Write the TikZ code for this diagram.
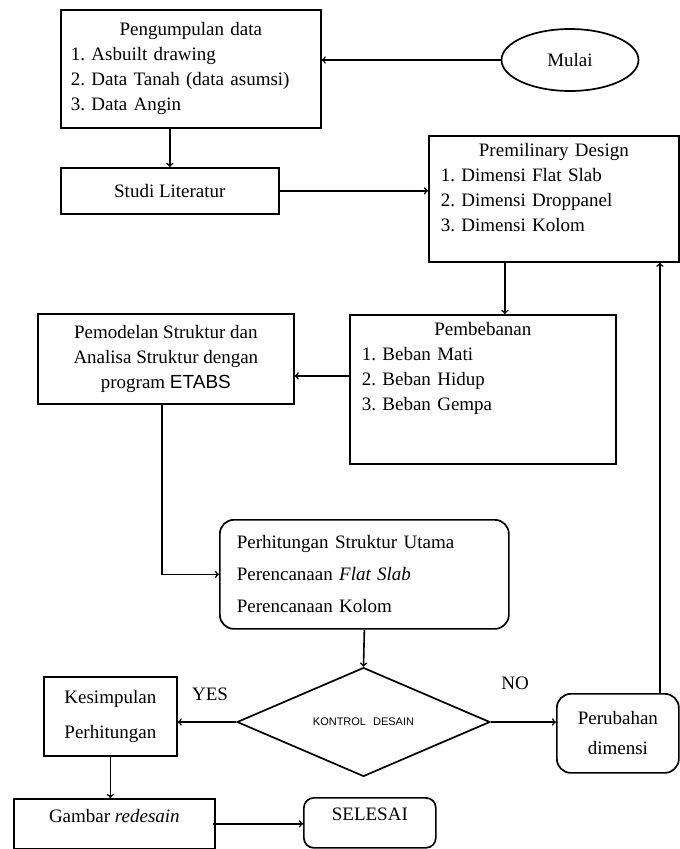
\documentclass[tikz,border=0pt]{standalone}
\usepackage{fontspec}
\setmainfont{Liberation Serif}
\setsansfont{Liberation Sans}
\usepackage{tikz}
\usetikzlibrary{shapes.geometric}
\frenchspacing

\begin{document}
\begin{tikzpicture}[x = 1pt, y = -1pt,
box/.style = {draw,line width = 1.7pt,inner sep = 0pt,anchor = north west,font = \fontsize{19}{25}\selectfont},
rbox/.style = {box,rounded corners = 14pt},
line/.style = {->,line width = 1.6pt}]
\useasboundingbox (0,0) rectangle (680,849);

\node[draw,line width = 1.7pt,ellipse,inner sep = 0pt,minimum width = 137pt,minimum height = 62pt,font = \fontsize{19}{25}\selectfont] at(570,60) (mulai) {Mulai};

\node[box,minimum width = 260pt,minimum height = 118pt,text width = 240pt,align = left] at(60,9) (data) {\hfill Pengumpulan data\hfill\null\\ 1. Asbuilt drawing\\ 2. Data Tanah (data asumsi)\\ 3. Data Angin};
\node[box,minimum width = 218pt,minimum height = 46pt] at(60,167) (studi) {Studi Literatur};

\node[box,minimum width = 250pt,minimum height = 126pt,text width = 226pt,align = left] at(428,135) (premil) {\hfill Premilinary Design\hfill\null\\ 1. Dimensi Flat Slab\\ 2. Dimensi Droppanel\\ 3. Dimensi Kolom\rule[-22pt]{0pt}{22pt}};

\node[box,minimum width = 266pt,minimum height = 149pt,text width = 242pt,align = left] at(349,314) (pemb) {\hfill Pembebanan\hfill\null\\ 1. Beban Mati\\ 2. Beban Hidup\\ 3. Beban Gempa\rule[-45pt]{0pt}{45pt}};
\node[box,minimum width = 256pt,minimum height = 90pt,align = center] at(37,313) (model) {Pemodelan Struktur dan\\ Analisa Struktur dengan\\ program \textsf{ETABS}};

\node[rbox,minimum width = 289pt,minimum height = 109pt,text width = 255pt,align = left,font = \fontsize{19}{32}\selectfont] at(219,519) (hitung) {Perhitungan Struktur Utama\\ Perencanaan \textit{Flat Slab}\\ Perencanaan Kolom};

\node[draw,line width = 1.7pt,diamond,inner sep = 0pt,minimum width = 253pt,minimum height = 100pt,font = \sffamily\fontsize{11}{13}\selectfont] at(363.5,722) (kontrol) {KONTROL\hspace{7pt}DESAIN};

\node[box,minimum width = 133pt,minimum height = 79pt,align = center,font = \fontsize{19}{35}\selectfont] at(43,676) (simpul) {Kesimpulan\\ Perhitungan};
\node[rbox,minimum width = 122pt,minimum height = 79pt,align = center,font = \fontsize{19}{30}\selectfont] at(556,693) (ubah) {Perubahan\\ dimensi};

\node[box,minimum width = 201pt,minimum height = 50pt] at(13,798) (gambar) {Gambar \textit{redesain}\rule[-15pt]{0pt}{15pt}};
\node[rbox,rounded corners = 10pt,minimum width = 132pt,minimum height = 50pt] at(303,797) (selesai) {SELESAI\rule[-17pt]{0pt}{17pt}};


\draw [line] (mulai.west) -- (mulai.west -| data.east);
\draw [line] (studi.north |- data.south) -- (studi.north);
\draw [line] (studi.east) -- (studi.east -| premil.west);

\draw [line] ([xshift = 22pt]pemb.north |- premil.south) -- ([xshift = 22pt]pemb.north);
\draw [line] ([yshift = 13.5pt]pemb.west) -- ([yshift = 13.5pt]pemb.west -| model.east);
\draw [line] ([xshift = -4pt]model.south) |- (hitung.west);

\draw [line] (hitung.south) -- (kontrol.north);
\draw [line] (kontrol.west) -- (kontrol.west -| simpul.east);
\draw [line] (kontrol.east) -- (kontrol.east -| ubah.west);
\draw [line] ([xshift = 42pt]ubah.north) -- ([xshift = 42pt]ubah.north |- premil.south);

\draw [line] (simpul.south) -- (simpul.south |- gambar.north);
\draw [line] ([xshift = -3pt]gambar.east) -- (gambar.east -| selesai.west);


\node[font = \fontsize{19}{25}\selectfont] at(210,694) (yes) {YES};
\node[font = \fontsize{19}{25}\selectfont] at(515,683) (no) {NO};
\end{tikzpicture}
\end{document}
